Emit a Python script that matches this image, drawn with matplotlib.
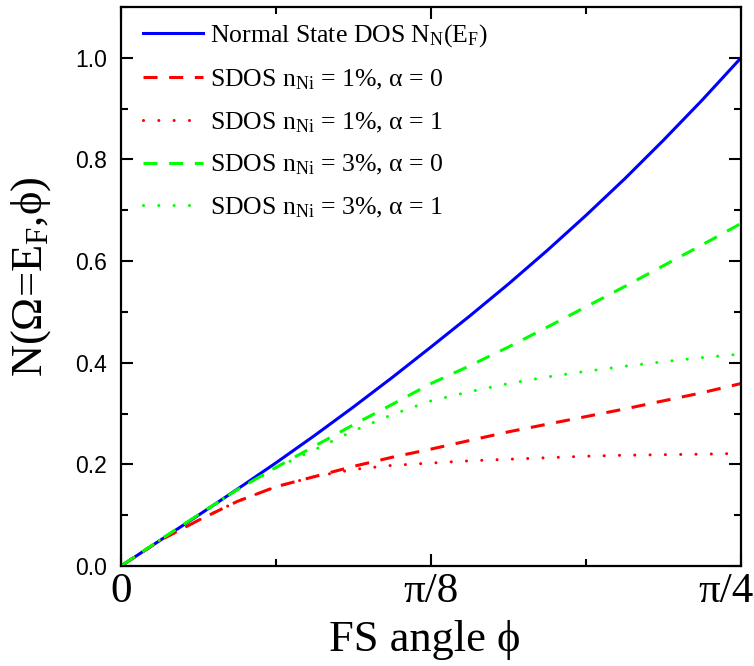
import numpy as np
import matplotlib.pyplot as plt
from matplotlib.ticker import FixedLocator, MultipleLocator

plt.rcParams['font.family'] = ['Liberation Serif', 'DejaVu Serif']
plt.rcParams['mathtext.fontset'] = 'custom'
plt.rcParams['mathtext.rm'] = 'Liberation Serif'
plt.rcParams['mathtext.it'] = 'Liberation Serif:italic'

# FS angle, as a fraction of pi/4
frac = [0, 0.0625, 0.125, 0.1875, 0.25, 0.3125, 0.375, 0.4375, 0.5,
        0.5625, 0.625, 0.6875, 0.75, 0.8125, 0.875, 0.9375, 1.0]
phi = np.array(frac) * np.pi / 4

dos_normal = [0, 0.050, 0.100, 0.151, 0.203, 0.257, 0.313, 0.371, 0.431,
              0.492, 0.555, 0.621, 0.690, 0.762, 0.838, 0.917, 1.0]
sdos_1_a0 = [0, 0.050, 0.090, 0.127, 0.156, 0.176, 0.196, 0.214, 0.230,
             0.247, 0.264, 0.279, 0.294, 0.309, 0.325, 0.341, 0.359]
sdos_1_a1 = [0, 0.050, 0.090, 0.127, 0.156, 0.176, 0.190, 0.198, 0.2025,
             0.207, 0.210, 0.213, 0.216, 0.218, 0.219, 0.220, 0.2215]
sdos_3_a0 = [0, 0.051, 0.101, 0.150, 0.194, 0.236, 0.278, 0.318, 0.359,
             0.394, 0.431, 0.470, 0.510, 0.550, 0.591, 0.632, 0.674]
sdos_3_a1 = [0, 0.051, 0.101, 0.150, 0.193, 0.229, 0.266, 0.298, 0.325,
             0.343, 0.359, 0.372, 0.383, 0.393, 0.402, 0.410, 0.417]

labels = [r'Normal State DOS N$_{\rm N}$(E$_{\rm F}$)',
          r'SDOS n$_{\rm Ni}$ = 1%, α = 0',
          r'SDOS n$_{\rm Ni}$ = 1%, α = 1',
          r'SDOS n$_{\rm Ni}$ = 3%, α = 0',
          r'SDOS n$_{\rm Ni}$ = 3%, α = 1']

fig = plt.figure(figsize=(7.54, 6.66), dpi=100)
ax = fig.add_axes([0.1605, 0.1502, 0.8223, 0.8393])

lw = 2.2
ax.plot(phi, dos_normal, color='#0000ff', lw=lw, label=labels[0])
ax.plot(phi, sdos_1_a0, color='#ff0000', lw=lw, dashes=(4.6, 3.8), label=labels[1])
ax.plot(phi, sdos_1_a1, color='#ff0000', lw=lw, dashes=(0.01, 5.0), dash_capstyle='round', label=labels[2])
ax.plot(phi, sdos_3_a0, color='#00ff00', lw=lw, dashes=(4.6, 3.8), label=labels[3])
ax.plot(phi, sdos_3_a1, color='#00ff00', lw=lw, dashes=(0.01, 5.0), dash_capstyle='round', label=labels[4])

ax.set_xlim(0, np.pi / 4)
ax.set_ylim(0, 1.1)

ax.xaxis.set_major_locator(FixedLocator([0, np.pi / 8, np.pi / 4]))
ax.xaxis.set_minor_locator(FixedLocator([np.pi / 16, 3 * np.pi / 16]))
ax.set_xticklabels(['0', 'π/8', ''], fontsize=31)
# last label pushed left so it stays inside the figure
ax.annotate('π/4', xy=(np.pi / 4, 0), xycoords='data', xytext=(-11, -5),
            textcoords='offset points', ha='center', va='top', fontsize=31,
            annotation_clip=False)

yt = np.arange(0, 1.01, 0.2)
ax.set_yticks(yt)
ax.set_yticklabels([f'{v:.1f}' for v in yt], fontsize=16.5, family='Liberation Sans')
ax.yaxis.set_minor_locator(MultipleLocator(0.1))

ax.tick_params(which='both', direction='in', top=True, right=True, width=1.5)
ax.tick_params(which='major', length=8.5)
ax.tick_params(which='minor', length=5)
ax.tick_params(axis='y', pad=10)
ax.tick_params(axis='x', pad=5)
for s in ax.spines.values():
    s.set_linewidth(1.6)

ax.set_xlabel('FS angle ϕ', fontsize=32, labelpad=6)
ax.xaxis.label.set_x(0.489)
ax.set_ylabel(r'N(Ω=E$_{\rm F}$,ϕ)', fontsize=32, labelpad=16)
ax.yaxis.label.set_y(0.518)

ax.legend(loc='upper left', bbox_to_anchor=(0.019, 0.991), borderaxespad=0,
          frameon=False, fontsize=18.5, handlelength=2.35,
          handletextpad=0.25, labelspacing=0.72)

fig.savefig('out.png', dpi=100)
